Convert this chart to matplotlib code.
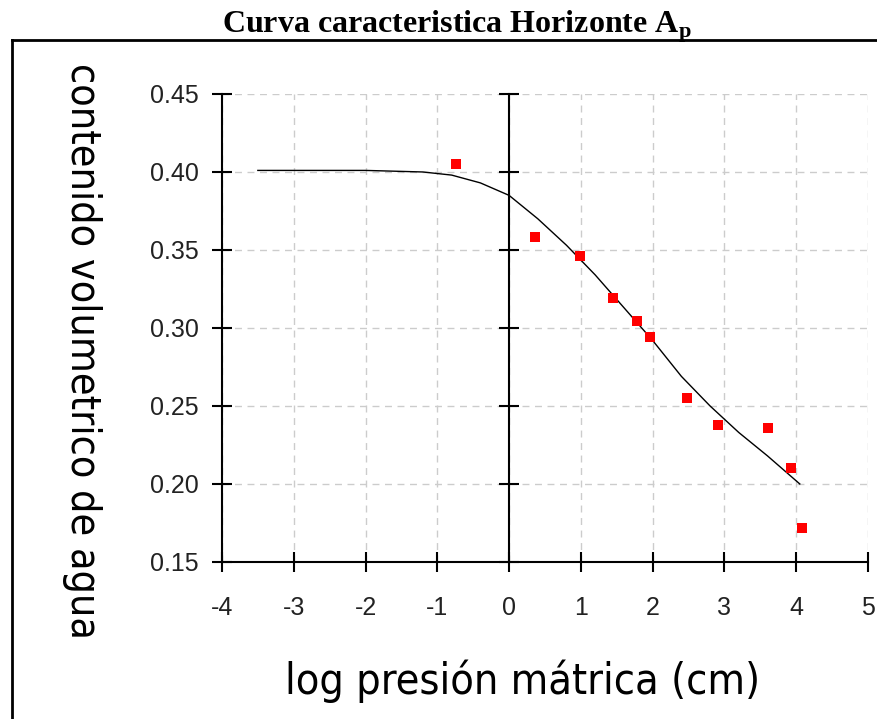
import matplotlib
matplotlib.use("Agg")
import matplotlib.pyplot as plt
from matplotlib.lines import Line2D
from matplotlib import font_manager

# measured points (log h, theta)
obs_x = [-0.74, 0.36, 0.99, 1.45, 1.78, 1.96, 2.48, 2.91, 3.61, 3.93, 4.08]
obs_y = [0.405, 0.358, 0.346, 0.319, 0.3045, 0.294, 0.255, 0.238, 0.236, 0.210, 0.172]

# fitted curve
fit_x = [-3.5, -2.0, -1.2, -0.8, -0.4, 0.0, 0.4, 0.8, 1.2, 1.6, 2.0, 2.4, 2.8, 3.2, 3.6, 4.05]
fit_y = [0.401, 0.401, 0.400, 0.398, 0.393, 0.385, 0.370, 0.353, 0.334, 0.313, 0.292,
         0.269, 0.250, 0.233, 0.218, 0.200]

xticks = [-4, -3, -2, -1, 0, 1, 2, 3, 4, 5]
yticks = [0.15, 0.20, 0.25, 0.30, 0.35, 0.40, 0.45]

plt.rcParams['mathtext.fontset'] = 'custom'
plt.rcParams['mathtext.rm'] = 'Liberation Serif:bold'
plt.rcParams['mathtext.bf'] = 'Liberation Serif:bold'

# narrowest face we can find for the axis titles
names = set(f.name for f in font_manager.fontManager.ttflist)
cond = [f for f in font_manager.fontManager.ttflist
        if f.name == 'DejaVu Sans' and 'ondensed' in str(f.stretch) + f.fname and f.weight == 400
        and f.style == 'normal']
if 'Liberation Sans Narrow' in names:
    lab_font = dict(family='Liberation Sans Narrow', fontsize=36)
    ylab_size = 34
elif cond:
    lab_font = dict(family='DejaVu Sans', stretch='condensed', fontsize=31)
    ylab_size = 29.5
else:
    lab_font = dict(family='DejaVu Sans', fontsize=27.5)
    ylab_size = 26

fig = plt.figure(figsize=(8.78, 7.19), dpi=100)
ax = fig.add_axes([0.2528, 0.2184, 0.7358, 0.6509])

ax.set_xlim(-4, 5)
ax.set_ylim(0.15, 0.45)
ax.set_xticks(xticks)
ax.set_yticks(yticks)
ax.set_xticklabels([str(t) for t in xticks])
ax.set_yticklabels(["%.2f" % t for t in yticks])

ax.grid(True, color='#cccccc', linestyle=(0, (5, 4)), linewidth=1.0)
ax.set_axisbelow(True)

ax.spines['top'].set_visible(False)
ax.spines['right'].set_position(('data', 0))
for s in ['left', 'bottom', 'right']:
    ax.spines[s].set_linewidth(1.5)
    ax.spines[s].set_color('black')

ax.yaxis.set_ticks_position('both')
ax.tick_params(axis='both', direction='inout', length=15, width=1.5, color='black',
               labelsize=18, labelcolor='#222222')
ax.tick_params(axis='y', pad=9, labelright=False)
ax.tick_params(axis='x', pad=17)
for lab in ax.get_xticklabels() + ax.get_yticklabels():
    lab.set_family(['Liberation Sans', 'DejaVu Sans'])

ax.plot(fit_x, fit_y, color='black', linewidth=1.0, zorder=3)
ax.plot(obs_x, obs_y, linestyle='none', marker='s', markersize=6.5,
        color='#ff0000', markeredgewidth=0, zorder=4)

ax.set_xlabel('log presión mátrica (cm)', **lab_font)
ax.set_ylabel('contenido volumetrico de agua', rotation=270, va='center', **lab_font)
ax.yaxis.label.set_fontsize(ylab_size)
ax.yaxis.set_label_coords(-0.217, 0.45)
ax.xaxis.set_label_coords(0.466, -0.255)
ax.xaxis.label.set_va('center')

fig.text(0.52, 1 - 33 / 719, r'Curva caracteristica Horizonte A$_{\mathrm{p}}$',
         ha='center', va='baseline', fontsize=23, fontweight='bold',
         family=['Liberation Serif', 'DejaVu Serif'])

# frame around the figure
fig.add_artist(Line2D([12 / 878, 12 / 878], [0, 1 - 40 / 719], color='black', linewidth=2))
fig.add_artist(Line2D([12 / 878, 1], [1 - 40 / 719, 1 - 40 / 719], color='black', linewidth=2))

fig.savefig('out.png', dpi=100)
